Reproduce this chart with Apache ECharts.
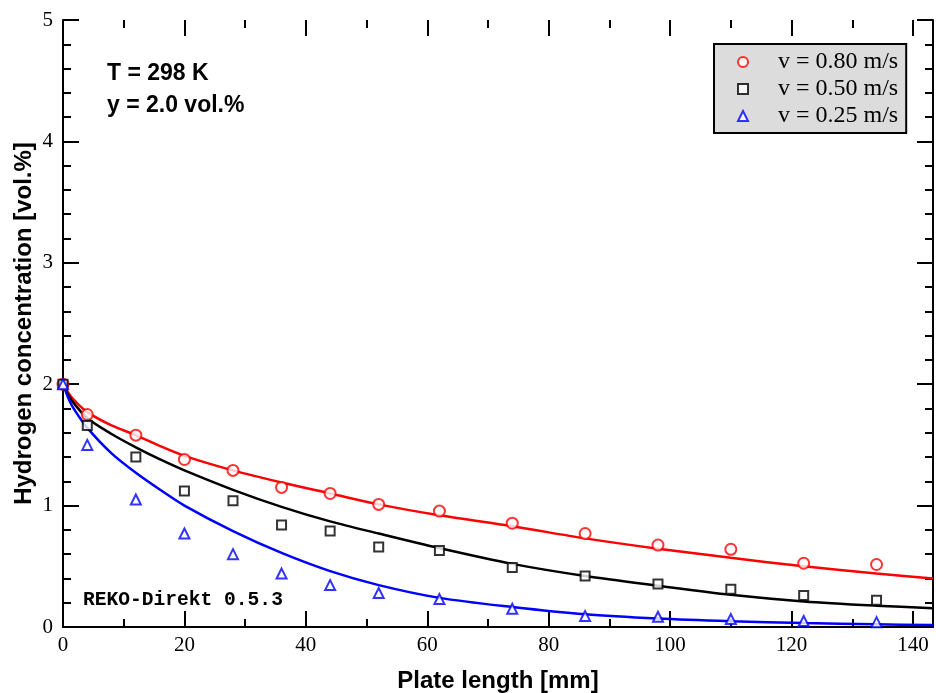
<!DOCTYPE html>
<html>
<head>
<meta charset="utf-8">
<script src="https://cdn.jsdelivr.net/npm/echarts@6/dist/echarts.min.js"></script>
<style>
html,body{margin:0;padding:0;background:#fff;}
#chart{width:936px;height:693px;}
</style>
</head>
<body>
<div id="chart"></div>
<script>
// Measured points
const pointX = [0, 4, 12, 20, 28, 36, 44, 52, 62, 74, 86, 98, 110, 122, 134];
const pts080 = [2.0, 1.75, 1.58, 1.38, 1.29, 1.15, 1.10, 1.01, 0.955, 0.855, 0.77, 0.675, 0.64, 0.525, 0.515];
const pts050 = [2.0, 1.66, 1.40, 1.12, 1.04, 0.84, 0.79, 0.66, 0.63, 0.49, 0.42, 0.355, 0.31, 0.26, 0.22];
const pts025 = [2.0, 1.50, 1.05, 0.77, 0.60, 0.44, 0.345, 0.28, 0.23, 0.15, 0.09, 0.085, 0.065, 0.05, 0.04];

// Simulated curves
const curveX = [0, 1, 2, 4, 8, 12, 16, 20, 28, 36, 44, 52, 62, 74, 86, 98, 110, 122, 134, 143.3];
const curve080 = [2.0, 1.92, 1.86, 1.77, 1.66, 1.58, 1.49, 1.41, 1.29, 1.19, 1.10, 1.01, 0.92, 0.83, 0.73, 0.645, 0.57, 0.50, 0.44, 0.40];
const curve050 = [2.0, 1.90, 1.83, 1.72, 1.59, 1.48, 1.38, 1.29, 1.13, 0.99, 0.87, 0.77, 0.65, 0.52, 0.42, 0.34, 0.265, 0.21, 0.175, 0.155];
const curve025 = [2.0, 1.87, 1.78, 1.64, 1.43, 1.27, 1.13, 1.0, 0.79, 0.61, 0.46, 0.345, 0.24, 0.165, 0.105, 0.07, 0.048, 0.032, 0.022, 0.016];

const seriesNames = ['v = 0.80 m/s', 'v = 0.50 m/s', 'v = 0.25 m/s'];
const xTickLabels = ['0', '20', '40', '60', '80', '100', '120', '140'];
const yTickLabels = ['0', '1', '2', '3', '4', '5'];

const xMax = 143.3;
const zip = (xs, ys) => xs.map((x, i) => [x, ys[i]]);

const serif = 'Liberation Serif';
const sans = 'Liberation Sans';

function xAxisDef(pos, interval, len, labels) {
  return {
    type: 'value', position: pos, min: 0, max: xMax, interval: interval,
    axisLine: { show: labels, onZero: false, lineStyle: { color: '#000', width: 2 } },
    axisTick: { show: true, inside: true, length: len, lineStyle: { color: '#000', width: 2 } },
    axisLabel: {
      show: labels, color: '#000', fontFamily: serif, fontSize: 21, margin: 8,
      showMaxLabel: false,
      formatter: v => (xTickLabels.indexOf(String(v)) >= 0 ? String(v) : '')
    },
    splitLine: { show: false },
    name: (labels && pos === 'bottom') ? 'Plate length [mm]' : '',
    nameLocation: 'middle', nameGap: 42,
    nameTextStyle: { color: '#000', fontFamily: sans, fontWeight: 'bold', fontSize: 24 }
  };
}
function yAxisDef(pos, labels) {
  return {
    type: 'value', position: pos, min: 0, max: 5, interval: 1,
    axisLine: { show: true, onZero: false, lineStyle: { color: '#000', width: 2 } },
    axisTick: { show: true, inside: true, length: 16, lineStyle: { color: '#000', width: 2 } },
    minorTick: { show: true, splitNumber: 5, length: 8, lineStyle: { color: '#000', width: 2 } },
    axisLabel: {
      show: labels, color: '#000', fontFamily: serif, fontSize: 21, margin: 10,
      formatter: v => yTickLabels[v] !== undefined ? yTickLabels[v] : ''
    },
    splitLine: { show: false },
    name: labels ? 'Hydrogen concentration [vol.%]' : '',
    nameLocation: 'middle', nameGap: 27, nameMoveOverlap: false,
    nameTextStyle: { color: '#000', fontFamily: sans, fontWeight: 'bold', fontSize: 24 }
  };
}

const colors = ['#ff0000', '#000000', '#0000ff'];
const symbols = ['emptyCircle', 'emptyRect', 'emptyTriangle'];
const symSizes = [11, 9, 10];
const ptsData = [pts080, pts050, pts025];
const curveData = [curve080, curve050, curve025];

const series = [];
for (let i = 0; i < 3; i++) {
  series.push({
    name: 'fit' + i, type: 'line', xAxisIndex: 0, yAxisIndex: 0,
    data: zip(curveX, curveData[i]), showSymbol: false, smooth: 0.3,
    lineStyle: { color: colors[i], width: 2.5 }, itemStyle: { color: colors[i] }, z: 3
  });
}
for (let i = 0; i < 3; i++) {
  series.push({
    name: seriesNames[i], type: 'scatter', xAxisIndex: 0, yAxisIndex: 0,
    data: zip(pointX, ptsData[i]), symbol: symbols[i], symbolSize: symSizes[i],
    itemStyle: { color: colors[i], borderColor: colors[i], borderWidth: 1.6 }, z: 4
  });
}

const chart = echarts.init(document.getElementById('chart'), null, { renderer: 'canvas' });
chart.setOption({
  animation: false,
  backgroundColor: '#fff',
  grid: { left: 63, right: 3, top: 20, bottom: 66, containLabel: false, outerBoundsMode: 'none' },
  xAxis: [
    xAxisDef('bottom', 20, 16, true),
    xAxisDef('bottom', 10, 8, false),
    xAxisDef('top', 20, 16, false),
    xAxisDef('top', 10, 8, false)
  ],
  yAxis: [yAxisDef('left', true), yAxisDef('right', false)],
  legend: {
    data: seriesNames.map((n, i) => ({ name: n, icon: symbols[i] })),
    orient: 'vertical', left: 714, top: 44,
    padding: [6, 8, 5, 23],
    itemWidth: 10, itemHeight: 10, itemGap: 3,
    backgroundColor: '#dcdcdc', borderColor: '#000', borderWidth: 2,
    selectedMode: false,
    textStyle: { color: '#000', fontFamily: serif, fontSize: 24, padding: [0, 0, 0, 25] }
  },
  graphic: [
    { type: 'text', left: 107, top: 62, style: { text: 'T = 298 K', fill: '#000', font: 'bold 23px "Liberation Sans"' } },
    { type: 'text', left: 107, top: 94, style: { text: 'y = 2.0 vol.%', fill: '#000', font: 'bold 23px "Liberation Sans"' } },
    { type: 'text', left: 83, top: 590, style: { text: 'REKO-Direkt 0.5.3', fill: '#000', font: 'bold 19.6px "Liberation Mono"' } }
  ],
  series: series
});
</script>
</body>
</html>
